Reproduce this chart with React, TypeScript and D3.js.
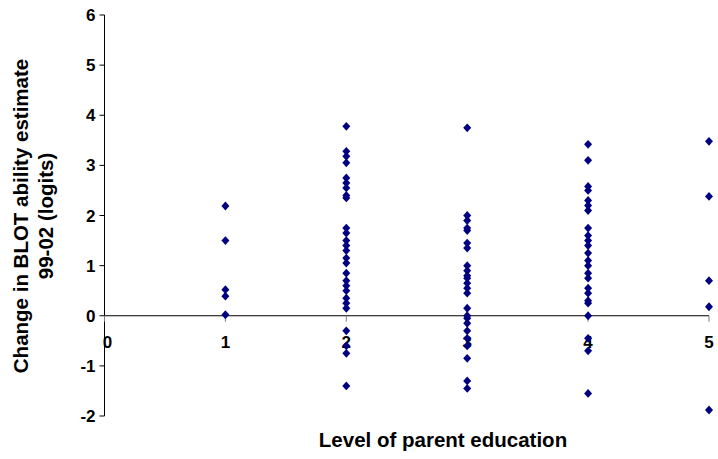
import React, { useEffect } from 'react';
import * as d3 from 'd3';

// parent education level (x) for each group of points
const levels = [1, 2, 3, 4, 5];

// change in BLOT ability estimate 99-02 (logits) per level
const level1 = [2.19, 1.5, 0.52, 0.39, 0.02];
const level2 = [3.78, 3.28, 3.18, 3.05, 2.75, 2.65, 2.55, 2.4, 2.35, 1.75, 1.65, 1.5, 1.4, 1.3, 1.15, 1.05, 0.85, 0.7, 0.6, 0.5, 0.35, 0.25, 0.15, -0.3, -0.6, -0.75, -1.4];
const level3 = [3.75, 2.0, 1.9, 1.75, 1.7, 1.45, 1.35, 1.0, 0.9, 0.8, 0.75, 0.65, 0.55, 0.45, 0.15, 0.0, -0.05, -0.15, -0.3, -0.45, -0.6, -0.85, -1.3, -1.45];
const level4 = [3.42, 3.1, 2.58, 2.5, 2.3, 2.2, 2.1, 1.75, 1.6, 1.5, 1.4, 1.25, 1.1, 1.0, 0.85, 0.75, 0.55, 0.45, 0.3, 0.25, 0.0, -0.45, -0.7, -1.55];
const level5 = [3.48, 2.38, 0.7, 0.18, -1.88];

const xTicks = [0, 1, 2, 3, 4, 5];
const yTicks = [-2, -1, 0, 1, 2, 3, 4, 5, 6];

const xTitle = 'Level of parent education';
const yTitle = ['Change in BLOT ability estimate', '99-02 (logits)'];

const font = '"Liberation Sans", Arial, sans-serif';

// excel-ish diamond, a bit wider than d3's own
const excelDiamond = {
    draw(context, size) {
        var w = Math.sqrt(size) / 2;
        var h = w * 1.1;
        context.moveTo(0, -h);
        context.lineTo(w, 0);
        context.lineTo(0, h);
        context.lineTo(-w, 0);
        context.closePath();
    }
};

const App = () => {
    var width = 718;
    var height = 459;

    useEffect(() => {
        document.body.style.margin = '0';
        document.body.style.overflow = 'hidden';
    }, []);

    var xScale = d3.scaleLinear().domain([0, 5]).range([104.5, 709]);
    var yScale = d3.scaleLinear().domain([-2, 6]).range([416, 15]);

    var groups = [level1, level2, level3, level4, level5];
    var points = [];
    groups.forEach((vals, i) => {
        vals.forEach((v) => points.push({ x: levels[i], y: v }));
    });

    var diamond = d3.symbol().type(excelDiamond).size(64);

    var x0 = xScale(0);
    var y0 = yScale(0);

    return (
        <svg width={width} height={height} style={{ display: 'block', background: '#fff' }}>
            {/* y axis */}
            <line x1={x0} x2={x0} y1={yScale(6)} y2={yScale(-2)} stroke="#000" strokeWidth={1} />
            {yTicks.map((t) => (
                <g key={'y' + t}>
                    <line x1={x0 - 5} x2={x0} y1={yScale(t)} y2={yScale(t)} stroke="#000" />
                    <text x={x0 - 9} y={yScale(t)} dy="0.36em" textAnchor="end"
                        fontFamily={font} fontWeight="bold" fontSize={17}>{t}</text>
                </g>
            ))}
            {/* x axis through zero */}
            <line x1={x0} x2={xScale(5)} y1={y0} y2={y0} stroke="#000" strokeWidth={1} />
            {xTicks.map((t) => (
                <g key={'x' + t}>
                    <line x1={xScale(t)} x2={xScale(t)} y1={y0} y2={y0 + 6} stroke="#808080" />
                    <text x={xScale(t) + (t === 0 ? 3 : 0)} y={y0 + 26} dy="0.36em" textAnchor="middle"
                        fontFamily={font} fontWeight="bold" fontSize={17}>{t}</text>
                </g>
            ))}
            {points.map((p, i) => (
                <path key={i} d={diamond()} transform={`translate(${xScale(p.x)},${yScale(p.y)})`} fill="#000080" />
            ))}
            <text x={443} y={440} dy="0.36em" textAnchor="middle"
                fontFamily={font} fontWeight="bold" fontSize={20.5}>{xTitle}</text>
            <text transform="translate(21,216) rotate(-90)" textAnchor="middle"
                fontFamily={font} fontWeight="bold" fontSize={20.5}>
                <tspan x={0} dy="0.36em">{yTitle[0]}</tspan>
                <tspan x={0} dy="1.2em">{yTitle[1]}</tspan>
            </text>
        </svg>
    );
};

export default App;
